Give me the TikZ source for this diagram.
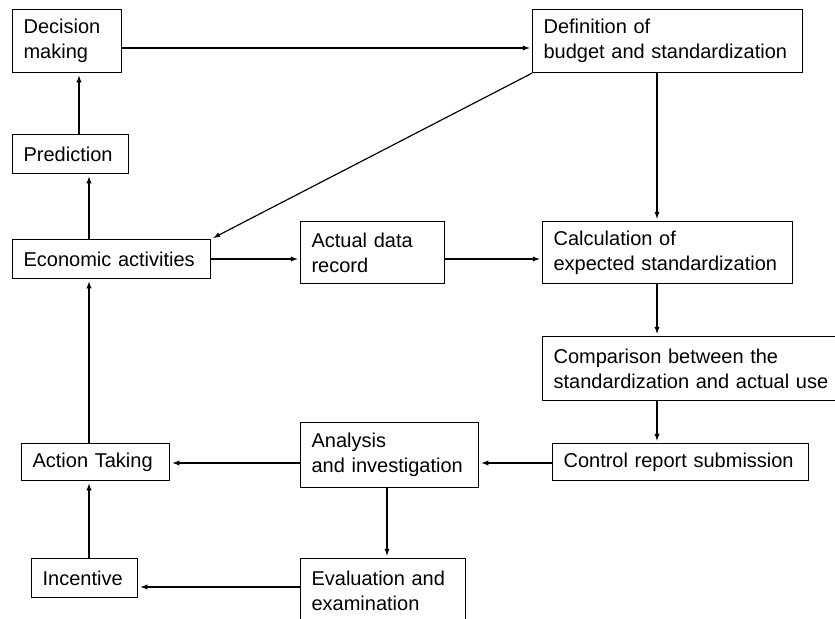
\documentclass[tikz,border=0pt]{standalone}
\usepackage{fontspec}
\setmainfont{Liberation Sans}
\usepackage{tikz}
\usetikzlibrary{arrows}

\begin{document}
\begin{tikzpicture}[x=0.03cm,y=-0.03cm,shorten >=2pt,>=latex,line width=1pt,
block node/.style = {rectangle,draw,anchor=north west,align=left,inner xsep=0.33cm,
inner ysep=0pt,font=\fontsize{17.07}{21.3}\selectfont}]
\useasboundingbox (0,0) rectangle (835,619);
\coordinate (xa) at (79,0);
\coordinate (xb) at (89,0);
\coordinate (xc) at (657,0);
\coordinate (xd) at (387,0);
\coordinate (ya) at (0,48);
\coordinate (yb) at (0,259);
\coordinate (yc) at (0,463);
\coordinate (yd) at (0,587);

\node[block node,text width=2.61cm,minimum height=1.89cm] at (12,9) (dm) {Decision\\making};
\node[block node,text width=2.82cm,minimum height=1.17cm] at (12,134) (pr) {Prediction};
\node[block node,text width=5.28cm,minimum height=1.17cm] at (12,239) (ec) {Economic activities};
\node[block node,text width=3.66cm,minimum height=1.86cm] at (300,221) (ad) {Actual data\\record};
\node[block node,text width=7.44cm,minimum height=1.89cm] at (532,9) (df) {Definition of\\budget and standardization};
\node[block node,text width=6.84cm,minimum height=1.86cm] at (542,221) (ca) {Calculation of\\expected standardization};
\node[block node,text width=8.34cm,minimum height=1.92cm] at (542,336) (cp) {Comparison between the\\standardization and actual use};
\node[block node,text width=7.02cm,minimum height=1.11cm] at (552,443) (cr) {Control report submission};
\node[block node,text width=4.68cm,minimum height=1.95cm] at (300,422) (an) {Analysis\\and investigation};
\node[block node,text width=3.78cm,minimum height=1.11cm] at (21,443) (tk) {Action Taking};
\node[block node,text width=2.52cm,minimum height=1.17cm] at (31,558) (ic) {Incentive};
\node[block node,text width=4.29cm,minimum height=1.92cm] at (300,558) (ev) {Evaluation and\\examination};

\draw[->] (dm.east |- ya) -- (df.west |- ya);
\draw[->] (pr.north -| xa) -- (dm.south -| xa);
\draw[->] (ec.north -| xb) -- (pr.south -| xb);
\draw[->] (tk.north -| xb) -- (ec.south -| xb);
\draw[->] (ic.north -| xb) -- (tk.south -| xb);
\draw[->] (ec.east |- yb) -- (ad.west |- yb);
\draw[->] (ad.east |- yb) -- (ca.west |- yb);
\draw[->] (df.south west) -- (ec.north east);
\draw[->] (df.south -| xc) -- (ca.north -| xc);
\draw[->] (ca.south -| xc) -- (cp.north -| xc);
\draw[->] (cp.south -| xc) -- (cr.north -| xc);
\draw[->] (cr.west |- yc) -- (an.east |- yc);
\draw[->] (an.west |- yc) -- (tk.east |- yc);
\draw[->] (an.south -| xd) -- (ev.north -| xd);
\draw[->] (ev.west |- yd) -- (ic.east |- yd);
\end{tikzpicture}
\end{document}
